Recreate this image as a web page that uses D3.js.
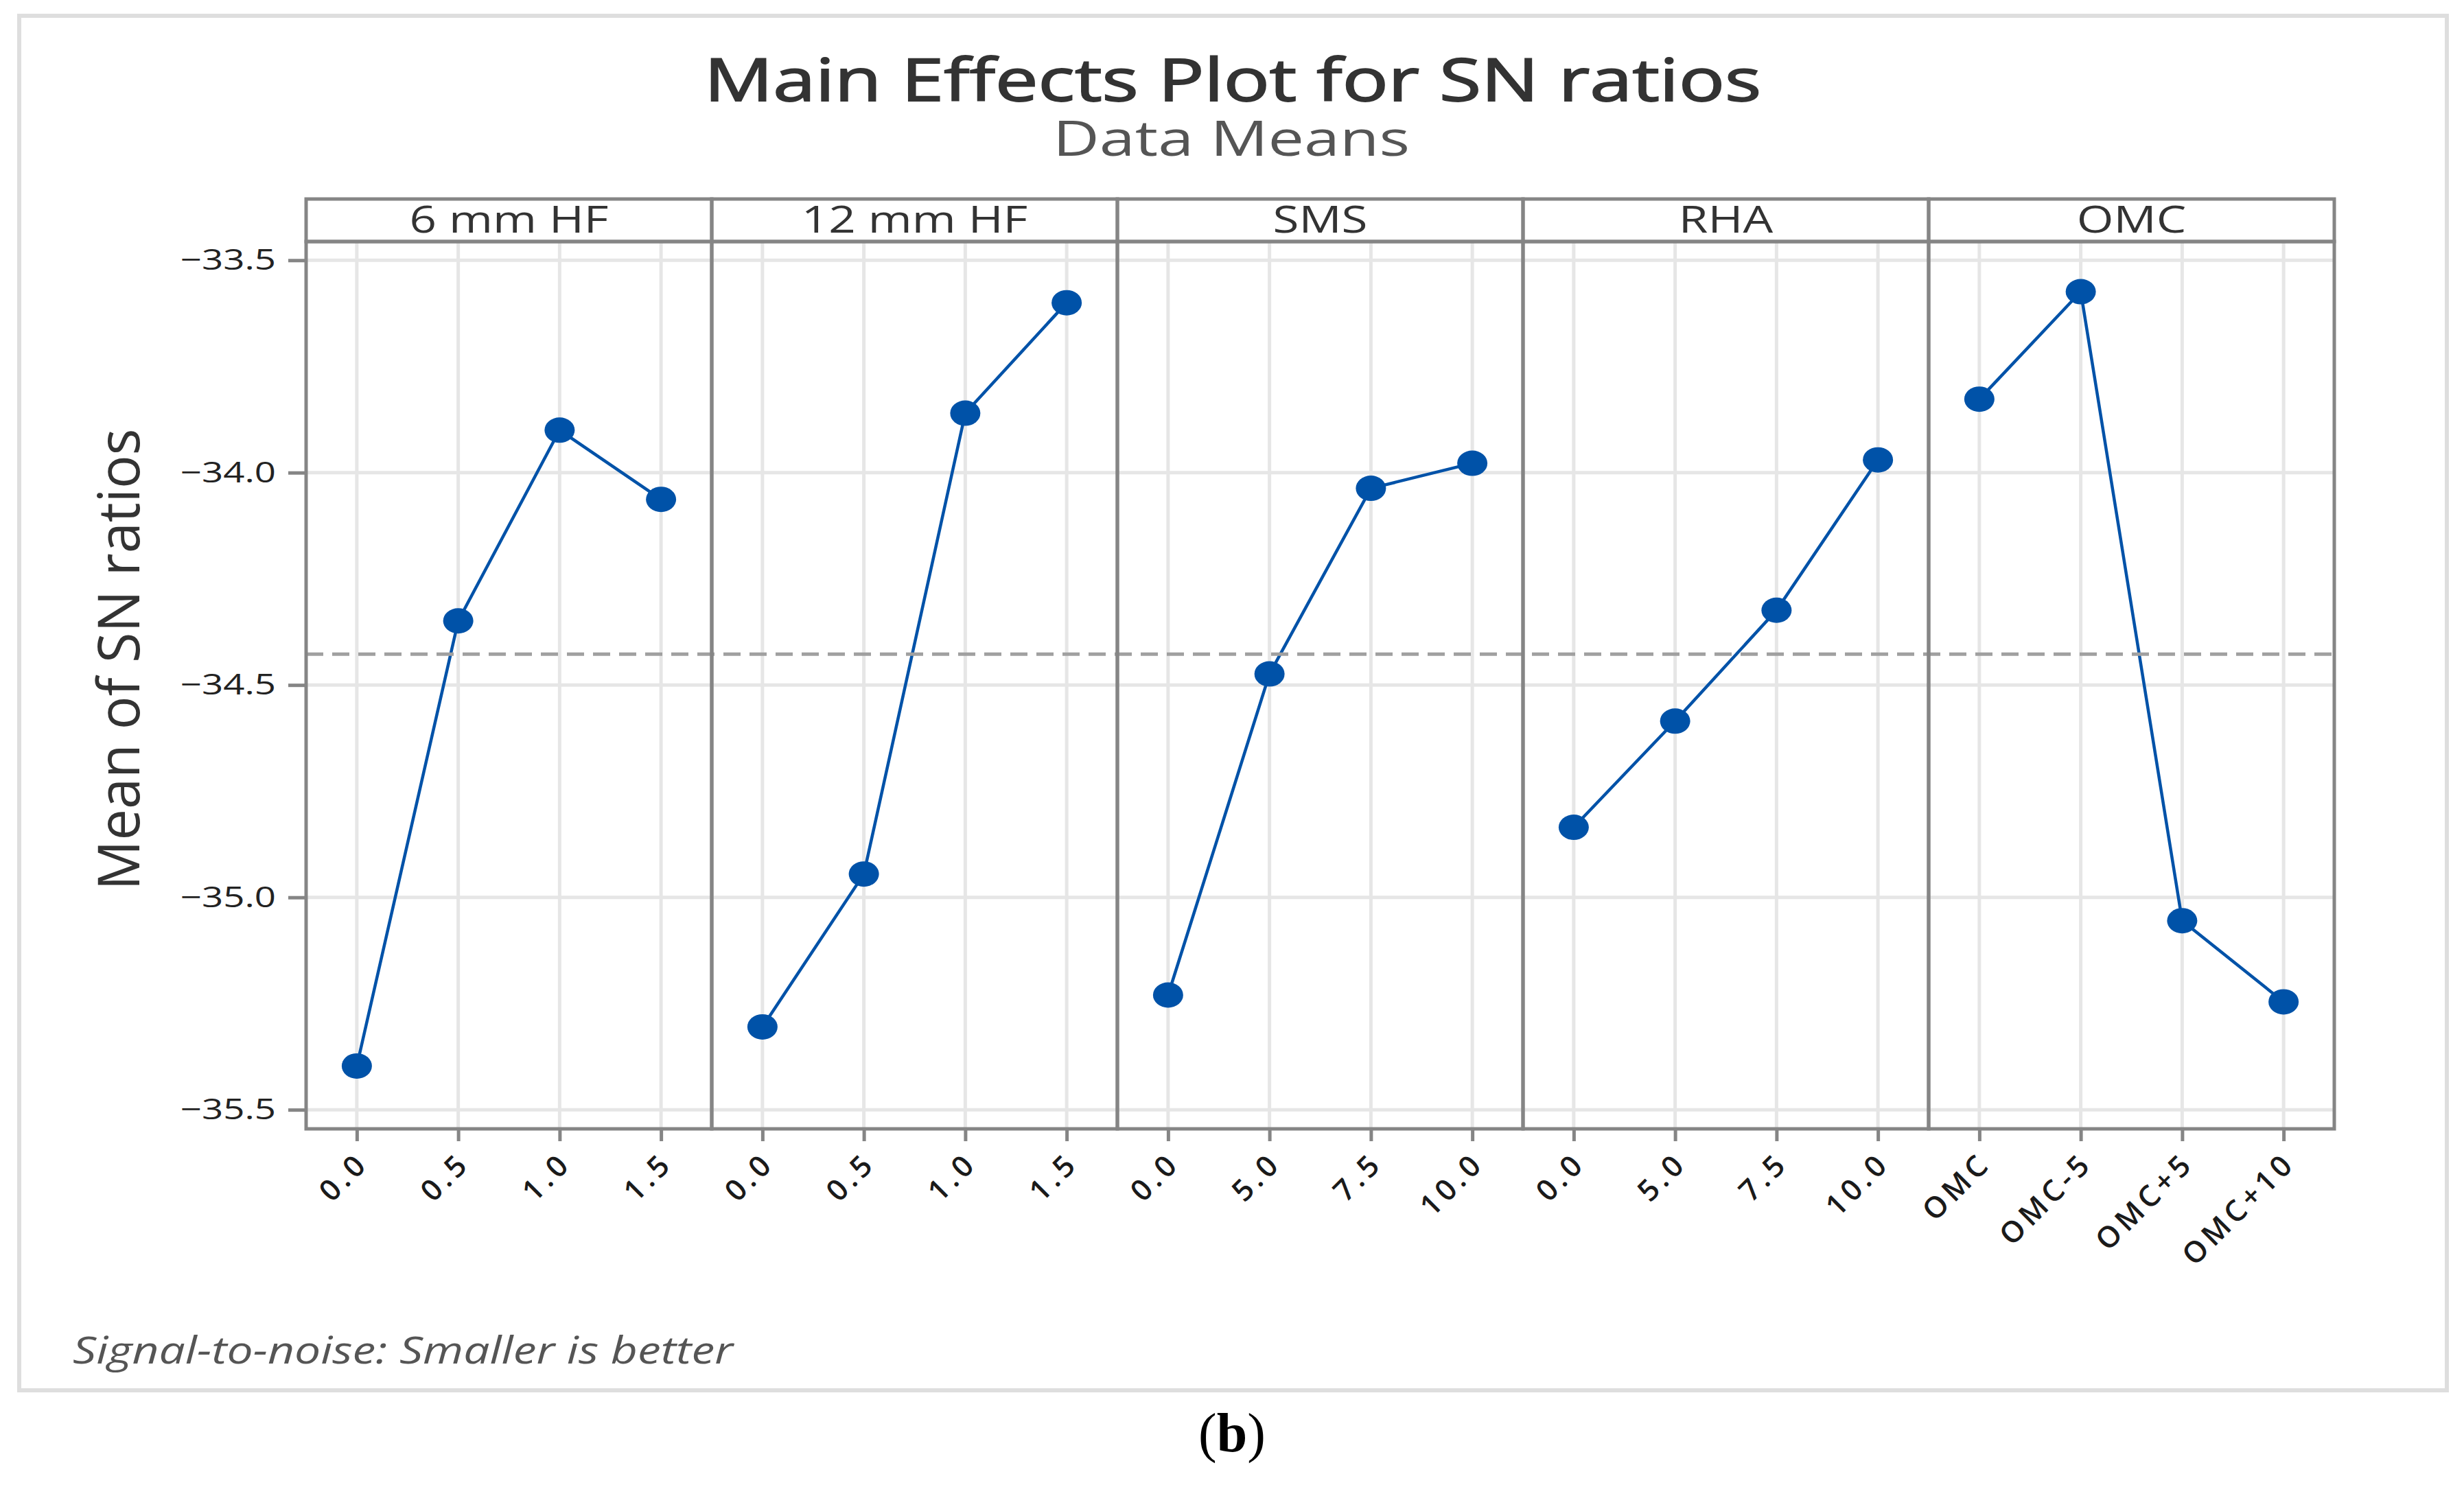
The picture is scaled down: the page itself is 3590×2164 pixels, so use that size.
<!DOCTYPE html>
<html>
<head>
<meta charset="utf-8">
<script src="https://cdn.jsdelivr.net/npm/d3@7"></script>
<style>
  html, body { margin: 0; padding: 0; background: #fff; }
  svg { display: block; }
  text { font-family: "Open Sans", "Noto Sans", sans-serif; }
</style>
</head>
<body>
<svg id="chart" width="3590" height="2164"></svg>
<script>
// ---------------- DATA ----------------
const factors = ["6 mm HF", "12 mm HF", "SMS", "RHA", "OMC"];
const levelsHF6  = ["0.0", "0.5", "1.0", "1.5"];
const levelsHF12 = ["0.0", "0.5", "1.0", "1.5"];
const levelsSMS  = ["0.0", "5.0", "7.5", "10.0"];
const levelsRHA  = ["0.0", "5.0", "7.5", "10.0"];
const levelsOMC  = ["OMC", "OMC-5", "OMC+5", "OMC+10"];
const meansHF6  = [-35.397, -34.349, -33.900, -34.063];
const meansHF12 = [-35.305, -34.945, -33.860, -33.600];
const meansSMS  = [-35.230, -34.474, -34.037, -33.978];
const meansRHA  = [-34.835, -34.585, -34.324, -33.970];
const meansOMC  = [-33.827, -33.574, -35.055, -35.246];
const yTicks = [-35.5, -35.0, -34.5, -34.0, -33.5];
const titleText = "Main Effects Plot for SN ratios";
const subtitleText = "Data Means";
const yLabelText = "Mean of SN ratios";
const footText = "Signal-to-noise: Smaller is better";

const levelSets = [levelsHF6, levelsHF12, levelsSMS, levelsRHA, levelsOMC];
const meanSets  = [meansHF6, meansHF12, meansSMS, meansRHA, meansOMC];
const grandMean = d3.mean(meansHF6);

// ---------------- LAYOUT ----------------
const L = {
  left: 446, panelW: 591, stripTop: 290, stripBottom: 352, bottom: 1645,
  gridColor: "#e6e6e6", borderColor: "#858585", blue: "#0052a8"
};
const svg = d3.select("#chart");

// outer frame
svg.append("rect").attr("x", 28).attr("y", 23).attr("width", 3537).attr("height", 2003)
  .attr("fill", "none").attr("stroke", "#dedede").attr("stroke-width", 6);

const y = d3.scaleLinear().domain([-35.545, -33.456]).range([L.bottom, L.stripBottom]);

const gGrid = svg.append("g");
const gData = svg.append("g");
const gBorder = svg.append("g");
const gMarks = svg.append("g");

factors.forEach((f, i) => {
  const x0 = L.left + i * L.panelW, x1 = x0 + L.panelW;
  const x = d3.scalePoint().domain(levelSets[i]).range([x0, x1]).padding(0.5);

  // vertical grid
  gGrid.selectAll(null).data(levelSets[i]).join("line")
    .attr("x1", d => x(d)).attr("x2", d => x(d))
    .attr("y1", L.stripBottom).attr("y2", L.bottom)
    .attr("stroke", L.gridColor).attr("stroke-width", 5);
  // horizontal grid
  gGrid.selectAll(null).data(yTicks).join("line")
    .attr("x1", x0).attr("x2", x1)
    .attr("y1", d => y(d)).attr("y2", d => y(d))
    .attr("stroke", L.gridColor).attr("stroke-width", 5);

  // data line
  const pts = levelSets[i].map((lv, j) => [x(lv), y(meanSets[i][j])]);
  gData.append("path").attr("d", d3.line()(pts))
    .attr("fill", "none").attr("stroke", L.blue).attr("stroke-width", 4.5);

  // markers
  gMarks.selectAll(null).data(pts).join("ellipse")
    .attr("cx", d => d[0]).attr("cy", d => d[1])
    .attr("rx", 22).attr("ry", 18.5).attr("fill", L.blue);

  // strip
  gBorder.append("rect").attr("x", x0).attr("y", L.stripTop)
    .attr("width", L.panelW).attr("height", L.stripBottom - L.stripTop)
    .attr("fill", "none").attr("stroke", L.borderColor).attr("stroke-width", 5);
  const st = gBorder.append("text").attr("x", (x0 + x1) / 2).attr("y", 339)
    .attr("text-anchor", "middle").attr("font-size", 54).attr("fill", "#333").text(f);
  const sl = st.node().getComputedTextLength();
  st.attr("textLength", sl * 1.28).attr("lengthAdjust", "spacingAndGlyphs");

  // panel border
  gBorder.append("rect").attr("x", x0).attr("y", L.stripBottom)
    .attr("width", L.panelW).attr("height", L.bottom - L.stripBottom)
    .attr("fill", "none").attr("stroke", L.borderColor).attr("stroke-width", 5);

  // x axis
  const ax = svg.append("g").attr("transform", `translate(0,${L.bottom})`)
    .call(d3.axisBottom(x).tickSize(18).tickSizeOuter(0));
  ax.select(".domain").remove();
  ax.selectAll(".tick line").attr("stroke", L.borderColor).attr("stroke-width", 5);
  ax.selectAll(".tick text")
    .attr("font-size", 43).attr("font-weight", 600).attr("fill", "#1a1a1a").attr("letter-spacing", 6)
    .attr("text-anchor", "end").attr("y", 0).attr("dy", "0.35em")
    .attr("transform", "translate(8,42) rotate(-45)");
});

// grand-mean reference line
gData.append("line").attr("x1", L.left).attr("x2", L.left + 5 * L.panelW)
  .attr("y1", y(grandMean)).attr("y2", y(grandMean))
  .attr("stroke", "#a0a0a0").attr("stroke-width", 5).attr("stroke-dasharray", "25 13");

// y axis
const ay = svg.append("g").attr("transform", `translate(${L.left},0)`)
  .call(d3.axisLeft(y).tickValues(yTicks).tickFormat(d3.format(".1f")).tickSize(26).tickPadding(18));
ay.select(".domain").remove();
ay.selectAll(".tick line").attr("stroke", L.borderColor).attr("stroke-width", 5);
ay.selectAll(".tick text").attr("font-size", 42).attr("fill", "#222")
  .each(function() {
    const n = this.getComputedTextLength();
    d3.select(this).attr("textLength", n * 1.3).attr("lengthAdjust", "spacingAndGlyphs");
  });

// titles
svg.append("text").attr("x", 1796).attr("y", 147).attr("text-anchor", "middle")
  .attr("font-size", 86).attr("fill", "#333").attr("stroke", "#333").attr("stroke-width", 1.8)
  .attr("textLength", 1540).attr("lengthAdjust", "spacingAndGlyphs").text(titleText);
svg.append("text").attr("x", 1794).attr("y", 227).attr("text-anchor", "middle")
  .attr("font-size", 72).attr("fill", "#555")
  .attr("textLength", 520).attr("lengthAdjust", "spacingAndGlyphs").text(subtitleText);

// y label
svg.append("text").attr("transform", "translate(203,961) rotate(-90)")
  .attr("text-anchor", "middle").attr("font-size", 84).attr("fill", "#333")
  .attr("textLength", 673).attr("lengthAdjust", "spacingAndGlyphs").text(yLabelText);

// footnote
svg.append("text").attr("x", 106).attr("y", 1987).attr("font-size", 54)
  .attr("font-style", "italic").attr("fill", "#555")
  .attr("textLength", 962).attr("lengthAdjust", "spacingAndGlyphs").text(footText);

// caption (b)
const cap = svg.append("text").attr("x", 1795).attr("y", 2115).attr("text-anchor", "middle")
  .attr("font-size", 80).attr("fill", "#000")
  .style("font-family", "'Liberation Serif', 'DejaVu Serif', serif");
cap.append("tspan").text("(");
cap.append("tspan").attr("font-weight", "bold").text("b");
cap.append("tspan").text(")");
</script>
</body>
</html>
